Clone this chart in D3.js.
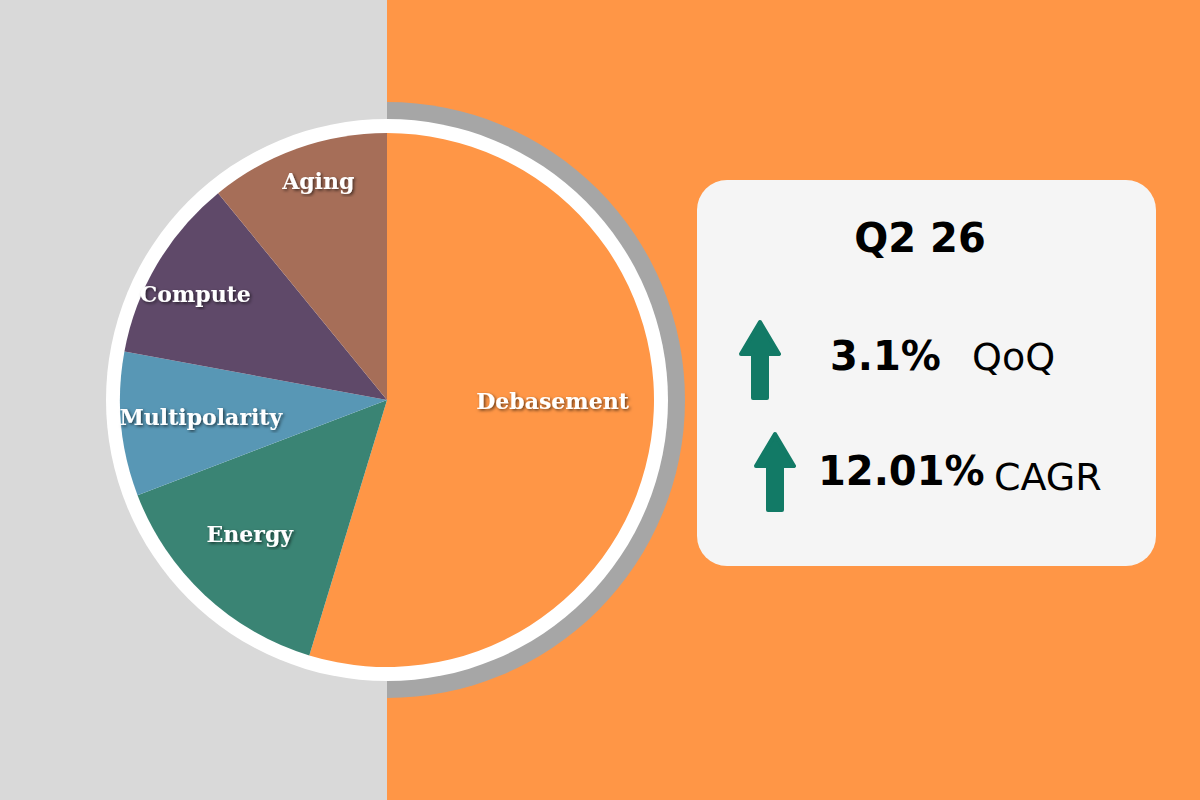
<!DOCTYPE html>
<html><head><meta charset="utf-8">
<script src="https://cdn.jsdelivr.net/npm/d3@7"></script>
<style>body{margin:0}</style></head>
<body><svg id="c" width="1200" height="800"></svg>
<script>
const categories=["Debasement","Energy","Multipolarity","Compute","Aging"];
const values=[54.7,14.5,8.7,11.2,10.9];
const colors=["#FF9646","#3A8474","#5897B5","#5F4969","#A66E58"];
const period="Q2 26";
const stats=[{v:"3.1%",l:"QoQ"},{v:"12.01%",l:"CAGR"}];

const svg=d3.select("#c");
const defs=svg.append("defs");
const f=defs.append("filter").attr("id","sh");
f.append("feDropShadow").attr("dx",1.5).attr("dy",1.5).attr("stdDeviation",1.5).attr("flood-color","#000").attr("flood-opacity",0.6);
svg.append("rect").attr("width",387).attr("height",800).attr("fill","#D9D9D9");
svg.append("rect").attr("x",387).attr("width",813).attr("height",800).attr("fill","#FF9646");
const cx=387,cy=400,r=267;
const g=svg.append("g").attr("transform",`translate(${cx},${cy})`);
g.append("path").attr("d",d3.arc()({innerRadius:0,outerRadius:298,startAngle:0,endAngle:Math.PI})).attr("fill","#A6A6A6");
g.append("circle").attr("r",281).attr("fill","#fff");
const pie=d3.pie().sort(null).value(d=>d)(values);
const arc=d3.arc().innerRadius(0).outerRadius(r);
g.selectAll("path.s").data(pie).join("path").attr("class","s").attr("d",arc).attr("fill",(d,i)=>colors[i]);
const labR=[0.62,0.72,0.70,0.82,0.86];
const labDA=[-8,2.5,0,-1.7,2.2];
g.selectAll("text").data(pie).join("text")
 .attr("transform",(d,i)=>{const a=(d.startAngle+d.endAngle)/2+labDA[i]*Math.PI/180,rr=r*labR[i];return `translate(${Math.sin(a)*rr},${-Math.cos(a)*rr})`})
 .attr("text-anchor","middle").attr("dy","0.35em").attr("fill","#fff").attr("filter","url(#sh)")
 .style("font-family","'DejaVu Serif',serif").style("font-weight","bold").style("font-size","22px")
 .text((d,i)=>categories[i]);
svg.append("rect").attr("x",697).attr("y",180).attr("width",459).attr("height",386).attr("rx",30).attr("fill","#F5F5F5");
const ff="'DejaVu Sans',sans-serif";
svg.append("text").attr("x",920).attr("y",252).attr("text-anchor","middle").style("font-family",ff).style("font-weight","bold").style("font-size","40px").text(period);
const rows=[{ay:322,ty:370,vx:830,lx:972,vs:40,ls:38},{ay:434,ty:485,vx:818,lx:994,vs:40,ls:38}];
stats.forEach((s,i)=>{const R=rows[i];const ax=i?775:760;
 svg.append("path").attr("d",`M${ax},${R.ay} L${ax+19},${R.ay+32} L${ax+7},${R.ay+32} L${ax+7},${R.ay+76} L${ax-7},${R.ay+76} L${ax-7},${R.ay+32} L${ax-19},${R.ay+32} Z`).attr("fill","#127A66").attr("stroke","#127A66").attr("stroke-linejoin","round").attr("stroke-width",4);
 svg.append("text").attr("x",R.vx).attr("y",R.ty).style("font-family",ff).style("font-weight","bold").style("font-size",R.vs+"px").text(s.v);
 svg.append("text").attr("x",R.lx).attr("y",R.ty+(i?5:0)).style("font-family",ff).style("font-size",R.ls+"px").style("font-weight","500").text(s.l);
});
</script></body></html>
